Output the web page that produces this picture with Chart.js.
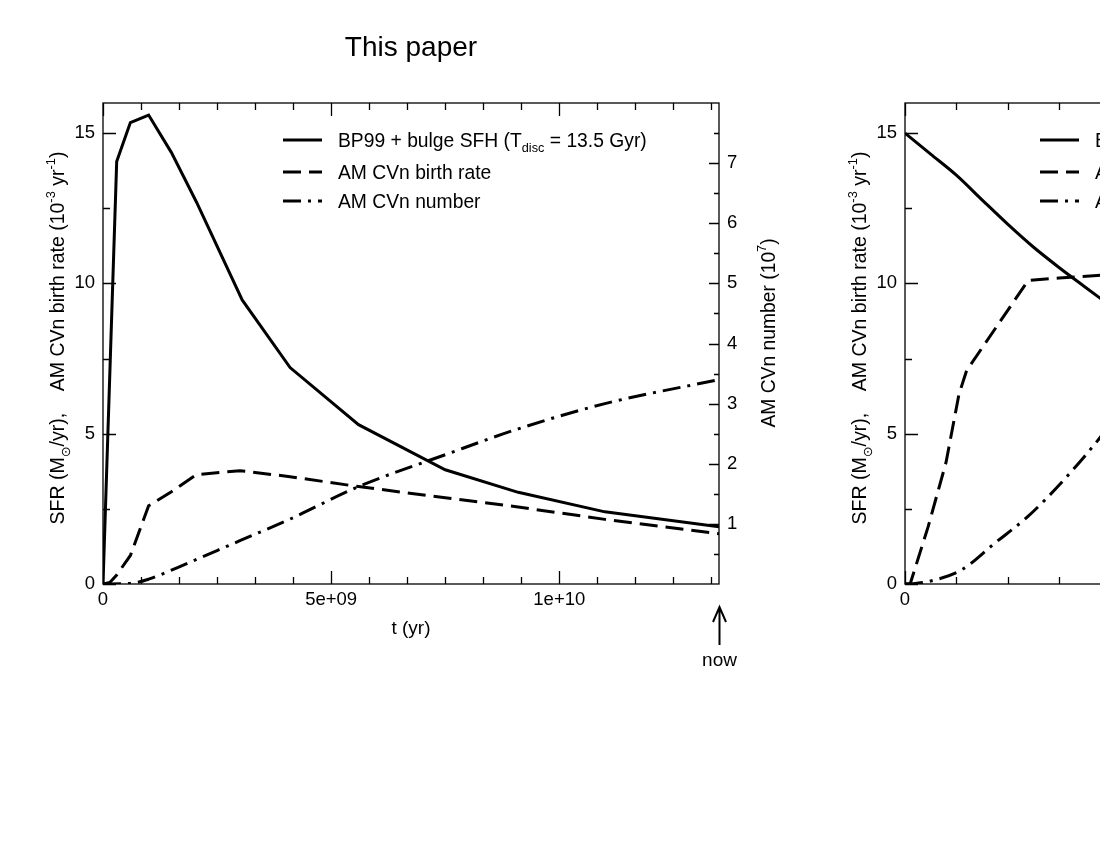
<!DOCTYPE html>
<html>
<head>
<meta charset="utf-8">
<script src="https://cdn.jsdelivr.net/npm/chart.js@4/dist/chart.umd.min.js"></script>
<style>
html,body{margin:0;padding:0;background:#fff;overflow:hidden}
#wrap{position:relative;width:1100px;height:850px;overflow:hidden;background:#fff}
#wrap canvas{position:absolute;top:0}
</style>
</head>
<body>
<div id="wrap">
  <canvas id="c1" width="840" height="850" style="left:0;width:840px;height:850px"></canvas>
  <canvas id="c2" width="800" height="850" style="left:800px;width:800px;height:850px"></canvas>
</div>
<script>
const FONT = "'Liberation Sans', Arial, 'DejaVu Sans', sans-serif";

// ---------- Left panel ("This paper") ----------
const titleLeft = 'This paper';
const tSfr  = [0, 0.3e9, 0.6e9, 1.0e9, 1.5e9, 2.05e9, 3.05e9, 4.1e9, 5.6e9, 7.5e9, 9.1e9, 11.0e9, 13.5e9];
const sfr   = [0, 14.05, 15.35, 15.6, 14.35, 12.7, 9.45, 7.2, 5.3, 3.8, 3.05, 2.4, 1.9];
const tBirth = [0, 0.15e9, 0.3e9, 0.6e9, 1.0e9, 1.5e9, 2.05e9, 3.0e9, 4.1e9, 5.6e9, 7.5e9, 9.1e9, 11.0e9, 13.5e9];
const birth  = [0, 0.05, 0.3, 0.95, 2.6, 3.07, 3.64, 3.77, 3.57, 3.24, 2.87, 2.56, 2.15, 1.67];
const tNum = [0, 0.6e9, 1.0e9, 1.5e9, 2.05e9, 3.0e9, 4.1e9, 5.6e9, 7.5e9, 9.1e9, 11.0e9, 13.5e9];
const num  = [0, 0.01, 0.08, 0.23, 0.41, 0.72, 1.08, 1.62, 2.15, 2.58, 3.0, 3.4];

const xTickValues = [0, 5e9, 1e10];
const xTickLabels = ['0', '5e+09', '1e+10'];
const yTickValues = [0, 5, 10, 15];
const yTickLabels = ['0', '5', '10', '15'];
const y2TickValues = [1, 2, 3, 4, 5, 6, 7];
const y2TickLabels = ['1', '2', '3', '4', '5', '6', '7'];

const legendLeft = [
  [['BP99 + bulge SFH (T', 0], ['disc', 1], [' = 13.5 Gyr)', 0]],
  [['AM CVn birth rate', 0]],
  [['AM CVn number', 0]]
];
const yTitle = [['SFR (M', 0], ['\u2299', 1], ['/yr),    AM CVn birth rate (10', 0], ['-3', 2], [' yr', 0], ['-1', 2], [')', 0]];
const y2Title = [['AM CVn number (10', 0], ['7', 2], [')', 0]];
const xTitle = 't (yr)';
const nowLabel = 'now';

// ---------- Right panel (partly outside the window) ----------
const tSfrR = [0, 0.5e9, 1.0e9, 1.5e9, 2.0e9, 2.5e9, 3.0e9, 3.5e9, 3.9e9];
const sfrR  = [15, 14.3, 13.6, 12.78, 11.97, 11.21, 10.53, 9.89, 9.38];
const tBirthR = [0, 0.1e9, 0.45e9, 0.8e9, 1.05e9, 1.2e9, 2.4e9, 3.0e9, 3.9e9];
const birthR  = [0, 0, 1.9, 4.05, 6.3, 7.1, 10.1, 10.18, 10.28];
const tNumR = [0, 0.2e9, 0.45e9, 1.1e9, 1.75e9, 2.39e9, 3.04e9, 3.79e9, 3.9e9];
const numR  = [0, 0.02, 0.08, 0.47, 1.36, 2.24, 3.36, 4.85, 5.1];
const legendRight = [
  [['BP99 SFH', 0]],
  [['AM CVn birth rate', 0]],
  [['AM CVn number', 0]]
];

// ---------- helpers ----------
const DASHED = [18, 8];
const DASHDOT = [18, 7, 3, 7];
function pts(xs, ys) { return xs.map((x, i) => ({ x: x, y: ys[i] })); }
function ds(label, data, dash, axis, smooth) {
  const o = { label, data, borderColor: '#000', borderWidth: 3, borderDash: dash,
           pointRadius: 0, fill: false, tension: 0, yAxisID: axis || 'y' };
  if (smooth) o.cubicInterpolationMode = 'monotone';
  return o;
}
function fnt(size) { return size + 'px ' + FONT; }
function richWidth(ctx, parts, size) {
  let w = 0;
  parts.forEach(([t, m]) => { ctx.font = fnt(m ? size * 0.66 : size); w += ctx.measureText(t).width; });
  return w;
}
function drawRich(ctx, parts, x, y, size, align) {
  const w = richWidth(ctx, parts, size);
  let cx = align === 'center' ? x - w / 2 : x;
  ctx.textAlign = 'left';
  ctx.textBaseline = 'alphabetic';
  parts.forEach(([t, m]) => {
    const s = m ? size * 0.66 : size;
    ctx.font = fnt(s);
    const dy = m === 1 ? size * 0.3 : (m === 2 ? -size * 0.45 : 0);
    ctx.fillText(t, cx, y + dy);
    cx += ctx.measureText(t).width;
  });
}
function tickLines(ctx, scale, values, len, side, a) {
  ctx.beginPath();
  values.forEach(v => {
    const p = Math.round(scale.getPixelForValue(v)) + 0.5;
    if (side === 'bottom') { ctx.moveTo(p, a.bottom); ctx.lineTo(p, a.bottom - len); }
    if (side === 'top') { ctx.moveTo(p, a.top); ctx.lineTo(p, a.top + len); }
    if (side === 'left') { ctx.moveTo(a.left, p); ctx.lineTo(a.left + len, p); }
    if (side === 'right') { ctx.moveTo(a.right, p); ctx.lineTo(a.right - len, p); }
  });
  ctx.stroke();
}
function drawLegend(ctx, chart, rows, x0, ys) {
  chart.data.datasets.forEach((d, i) => {
    ctx.save();
    ctx.strokeStyle = '#000';
    ctx.lineWidth = 3;
    ctx.setLineDash(d.borderDash || []);
    ctx.beginPath();
    ctx.moveTo(x0, ys[i]); ctx.lineTo(x0 + 39, ys[i]);
    ctx.stroke();
    ctx.restore();
    ctx.fillStyle = '#000';
    drawRich(ctx, rows[i], x0 + 55, ys[i] + 6.5, 19.3, 'left');
  });
}

Chart.defaults.font.family = FONT;
Chart.defaults.color = '#000';

function baseScaleX(max, height, vals, labels) {
  return {
    type: 'linear', position: 'bottom', min: 0, max: max,
    grid: { display: false, drawTicks: false, tickLength: 0 }, border: { display: false },
    afterBuildTicks: s => { s.ticks = vals.map(v => ({ value: v })); },
    ticks: { autoSkip: false, maxRotation: 0, minRotation: 0, padding: 5, font: { size: 18.5 },
             callback: v => labels[vals.indexOf(v)] },
    afterFit: s => { s.height = height; }
  };
}
function baseScaleY(pos, max, width, vals, labels) {
  return {
    type: 'linear', position: pos, min: 0, max: max,
    grid: { display: false, drawTicks: false, tickLength: 0 }, border: { display: false },
    afterBuildTicks: s => { s.ticks = vals.map(v => ({ value: v })); },
    ticks: { autoSkip: false, padding: 8, font: { size: 18.5 },
             callback: v => labels[vals.indexOf(v)] },
    afterFit: s => { s.width = width; }
  };
}

// ---------- Left chart ----------
const xMinorL = [];
for (let k = 1; k * 5e9 / 6 <= 1.35e10; k++) if (k % 6) xMinorL.push(k * 5e9 / 6);
const yMinor = [2.5, 7.5, 12.5];
const y2Minor = [0.5, 1.5, 2.5, 3.5, 4.5, 5.5, 6.5, 7.5];

const decoLeft = {
  id: 'decoLeft',
  beforeDatasetsDraw(chart) {
    const ctx = chart.ctx, a = chart.chartArea, sx = chart.scales.x, sy = chart.scales.y, sy2 = chart.scales.y2;
    ctx.save();
    ctx.strokeStyle = '#000';
    ctx.lineWidth = 1.3;
    ctx.strokeRect(a.left, a.top, a.right - a.left, a.bottom - a.top);
    tickLines(ctx, sx, xTickValues, 13, 'bottom', a);
    tickLines(ctx, sx, xTickValues, 13, 'top', a);
    tickLines(ctx, sx, xMinorL, 7, 'bottom', a);
    tickLines(ctx, sx, xMinorL, 7, 'top', a);
    tickLines(ctx, sy, yTickValues, 13, 'left', a);
    tickLines(ctx, sy, yMinor, 7, 'left', a);
    tickLines(ctx, sy2, y2TickValues, 10, 'right', a);
    tickLines(ctx, sy2, y2Minor, 5, 'right', a);
    ctx.restore();
  },
  afterDraw(chart) {
    const ctx = chart.ctx, a = chart.chartArea, sx = chart.scales.x;
    ctx.save();
    ctx.fillStyle = '#000';
    // title
    ctx.font = fnt(28); ctx.textAlign = 'center'; ctx.textBaseline = 'alphabetic';
    ctx.fillText(titleLeft, (a.left + a.right) / 2, 56);
    // x title
    ctx.font = fnt(19);
    ctx.fillText(xTitle, (a.left + a.right) / 2, 634);
    // y title (left)
    ctx.save(); ctx.translate(64, 338); ctx.rotate(-Math.PI / 2);
    drawRich(ctx, yTitle, 0, 0, 19.5, 'center'); ctx.restore();
    // y2 title (right)
    ctx.save(); ctx.translate(775, 333); ctx.rotate(-Math.PI / 2);
    drawRich(ctx, y2Title, 0, 0, 19.3, 'center'); ctx.restore();
    // "now" arrow
    const xn = Math.round(sx.getPixelForValue(1.35e10)) + 0.5;
    ctx.strokeStyle = '#000'; ctx.lineWidth = 2;
    ctx.beginPath();
    ctx.moveTo(xn, 645); ctx.lineTo(xn, 607);
    ctx.moveTo(xn - 6.5, 622); ctx.lineTo(xn, 607); ctx.lineTo(xn + 6.5, 622);
    ctx.stroke();
    ctx.font = fnt(19); ctx.textAlign = 'center';
    ctx.fillText(nowLabel, xn, 666);
    // legend
    drawLegend(ctx, chart, legendLeft, 283, [140, 172, 201]);
    ctx.restore();
  }
};

new Chart(document.getElementById('c1'), {
  type: 'line',
  data: { datasets: [
    ds('BP99 + bulge SFH (Tdisc = 13.5 Gyr)', pts(tSfr, sfr), []),
    ds('AM CVn birth rate', pts(tBirth, birth), DASHED),
    ds('AM CVn number', pts(tNum, num), DASHDOT, 'y2', true)
  ]},
  options: {
    responsive: false, animation: false, events: [],
    layout: { padding: { top: 103, left: 0, right: 0, bottom: 0 } },
    plugins: { legend: { display: false }, tooltip: { enabled: false }, title: { display: false } },
    scales: {
      x: baseScaleX(1.35e10, 266, xTickValues, xTickLabels),
      y: baseScaleY('left', 16, 103, yTickValues, yTickLabels),
      y2: baseScaleY('right', 8, 121, y2TickValues, y2TickLabels)
    }
  },
  plugins: [decoLeft]
});

// ---------- Right chart ----------
const xMinorR = [1e9, 2e9, 3e9, 4e9, 6e9, 7e9, 8e9, 9e9, 11e9];
const decoRight = {
  id: 'decoRight',
  beforeDatasetsDraw(chart) {
    const ctx = chart.ctx, a = chart.chartArea, sx = chart.scales.x, sy = chart.scales.y;
    ctx.save();
    ctx.strokeStyle = '#000';
    ctx.lineWidth = 1.3;
    ctx.strokeRect(a.left, a.top, a.right - a.left, a.bottom - a.top);
    tickLines(ctx, sx, xTickValues, 13, 'bottom', a);
    tickLines(ctx, sx, xTickValues, 13, 'top', a);
    tickLines(ctx, sx, xMinorR, 7, 'bottom', a);
    tickLines(ctx, sx, xMinorR, 7, 'top', a);
    tickLines(ctx, sy, yTickValues, 13, 'left', a);
    tickLines(ctx, sy, yMinor, 7, 'left', a);
    ctx.restore();
  },
  afterDraw(chart) {
    const ctx = chart.ctx, a = chart.chartArea;
    ctx.save();
    ctx.fillStyle = '#000';
    ctx.save(); ctx.translate(a.left - 39, 338); ctx.rotate(-Math.PI / 2);
    drawRich(ctx, yTitle, 0, 0, 19.5, 'center'); ctx.restore();
    drawLegend(ctx, chart, legendRight, a.left + 135, [140, 172, 201]);
    ctx.restore();
  }
};

new Chart(document.getElementById('c2'), {
  type: 'line',
  data: { datasets: [
    ds('BP99 SFH', pts(tSfrR, sfrR), [], 'y', true),
    ds('AM CVn birth rate', pts(tBirthR, birthR), DASHED),
    ds('AM CVn number', pts(tNumR, numR), DASHDOT, 'y', true)
  ]},
  options: {
    responsive: false, animation: false, events: [],
    layout: { padding: { top: 103, left: 0, right: 79, bottom: 0 } },
    plugins: { legend: { display: false }, tooltip: { enabled: false }, title: { display: false } },
    scales: {
      x: baseScaleX(1.2e10, 266, xTickValues, xTickLabels),
      y: baseScaleY('left', 16, 105, yTickValues, yTickLabels)
    }
  },
  plugins: [decoRight]
});
</script>
</body>
</html>
